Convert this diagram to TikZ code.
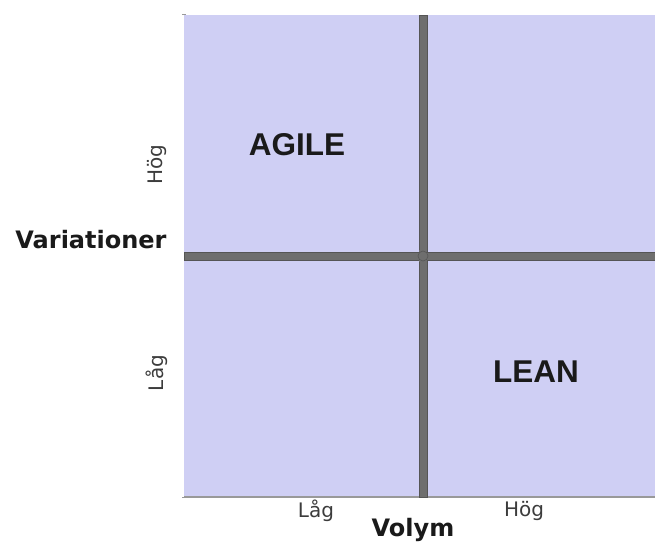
\documentclass[tikz,border=0pt]{standalone}
\usepackage{fontspec}
\setmainfont{DejaVu Sans}
\newfontfamily\quadfont{Liberation Sans}
\usetikzlibrary{positioning}
\definecolor{quadfill}{HTML}{CFCFF4}
\definecolor{barc}{HTML}{6E6E6E}
\definecolor{bardark}{HTML}{555555}
\definecolor{edgec}{HTML}{999999}
\definecolor{ink}{HTML}{1A1A1A}
\tikzset{
  bar/.style={draw=bardark,fill=barc,line width=0.6pt},
  tick/.style={edgec,line width=1pt},
  axislbl/.style={font=\fontsize{24}{28}\selectfont\bfseries,text=ink},
  scalelbl/.style={font=\fontsize{20}{24}\selectfont,text=ink!85},
  quadlbl/.style={font=\quadfont\fontsize{31.5}{36}\selectfont\bfseries,text=ink},
}

\begin{document}
\begin{tikzpicture}[x=1pt,y=-1pt]
  \useasboundingbox (0,0) rectangle (655,545);
  % ---------- the four quadrants ----------
  \fill[quadfill] (184,15) rectangle (655,497);
  \draw[edgec,line width=2pt] (184,497) -- (655,497);
  \draw[tick] (182,15) -- (186,15);
  \draw[tick] (182,497) -- (186,497);
  % ---------- dividing bars ----------
  \draw[bar] (419,15) rectangle (427,497);
  \draw[bar] (184,252) rectangle (655,260);
  \fill[barc] (419.3,250) rectangle (426.7,262);
  \node[bar,circle,minimum size=10pt,inner sep=0pt] (mid) at (423,256) {};
  % ---------- labels ----------
  \node[quadlbl] (agile) at (297,145) {AGILE};
  \node[quadlbl] (lean) at (536,372) {LEAN};
  \node[axislbl] (var) at (91,240) {Variationer};
  \node[axislbl] (vol) at (413,530) {Volym};
  \node[scalelbl] (xlow) at (316,511) {Låg};
  \node[scalelbl] (xhigh) at (524,511) {Hög};
  \node[scalelbl,rotate=90] (yhigh) at (157,165) {Hög};
  \node[scalelbl,rotate=90] (ylow) at (157,373) {Låg};
\end{tikzpicture}
\end{document}
